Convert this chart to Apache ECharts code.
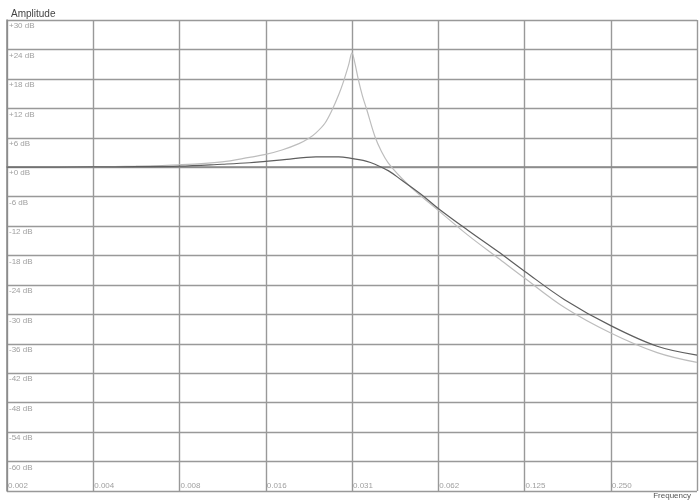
<!DOCTYPE html>
<html>
<head>
<meta charset="utf-8">
<script src="https://cdn.jsdelivr.net/npm/echarts@6/dist/echarts.min.js"></script>
<style>
  html, body { margin: 0; padding: 0; background: #fff; }
  #chart { width: 700px; height: 501px; }
</style>
</head>
<body>
<div id="chart"></div>
<script>
"use strict";
// tick labels, one per octave (last grid line at 0.5 has none)
var xTickLabels = ['0.002', '0.004', '0.008', '0.016', '0.031', '0.062', '0.125', '0.250', ''];

// resonant curve (light grey) - frequency, amplitude in dB
var resFreq = [0.00195, 0.00276, 0.0039, 0.0055, 0.0078, 0.011, 0.0137, 0.0156, 0.0178, 0.0204,
  0.0221, 0.0234, 0.0251, 0.0266, 0.0281, 0.0292, 0.0304, 0.03125, 0.0319, 0.0329,
  0.034, 0.0352, 0.0376, 0.0396, 0.0418, 0.0465, 0.0518, 0.0625, 0.0795, 0.101,
  0.125, 0.1725, 0.25, 0.363, 0.5];
var resDb = [0, 0.02, 0.05, 0.2, 0.5, 1.1, 2.0, 2.6, 3.5, 4.8,
  5.9, 7.0, 8.9, 11.6, 14.8, 17.5, 20.8, 23.3, 21.5, 17.8,
  14.5, 11.7, 6.2, 3.2, 0.9, -2.2, -4.8, -8.8, -13.9, -18.5,
  -22.6, -28.6, -33.8, -37.8, -39.8];

// flat curve (dark grey)
var flatFreq = [0.00195, 0.0039, 0.0055, 0.0078, 0.011, 0.0137, 0.0156, 0.0178, 0.0234, 0.0281,
  0.0304, 0.0352, 0.0376, 0.0418, 0.0465, 0.0544, 0.0625, 0.0795, 0.101, 0.125,
  0.1725, 0.25, 0.363, 0.5];
var flatDb = [0, 0.05, 0.1, 0.2, 0.6, 0.9, 1.2, 1.5, 2.1, 2.1,
  1.9, 1.2, 0.6, -0.7, -2.6, -5.5, -8.4, -12.9, -17.2, -21.2,
  -27.0, -32.3, -36.5, -38.3];

var pairs = function(xs, ys){
  return xs.map(function(x, i){ return [x, ys[i]]; });
};

var myChart = echarts.init(document.getElementById('chart'));
myChart.setOption({
  animation: false,
  backgroundColor: '#fff',
  title: [{
    text: 'Amplitude', left: 6, top: 4,
    textStyle: { fontFamily: 'Liberation Sans', fontSize: 10, fontWeight: 'normal', color: '#444' }
  }, {
    text: 'Frequency', right: 4, bottom: -4,
    textStyle: { fontFamily: 'Liberation Sans', fontSize: 8, fontWeight: 'normal', color: '#555' }
  }],
  grid: { left: 7, right: 0, top: 20, bottom: 10 },
  xAxis: {
    type: 'log', logBase: 2,
    min: 0.001953125, max: 0.5, splitNumber: 8,
    axisLine: { show: true, lineStyle: { color: '#888', width: 1.5 } },
    axisTick: { show: false },
    splitLine: { show: true, lineStyle: { color: '#999', width: 1.4 } },
    axisLabel: {
      inside: true, margin: 1, align: 'left', verticalAlign: 'bottom',
      padding: [0, 0, 0, 1],
      fontFamily: 'Liberation Sans', fontSize: 8, color: '#a0a0a0',
      formatter: function(v){
        var i = Math.round(Math.log(v) / Math.LN2) + 9;
        return xTickLabels[i] || '';
      }
    }
  },
  yAxis: {
    type: 'value', min: -66, max: 30, interval: 6,
    axisLine: { show: true, lineStyle: { color: '#888', width: 1.5 } },
    axisTick: { show: false },
    splitLine: { show: true, lineStyle: { color: '#999', width: 1.4 } },
    axisLabel: {
      inside: true, margin: 2, align: 'left', verticalAlign: 'top',
      padding: [2, 0, 0, 0],
      fontFamily: 'Liberation Sans', fontSize: 8, color: '#a0a0a0',
      formatter: function(v){
        if (v <= -66) return '';
        return (v >= 0 ? '+' : '') + v + ' dB';
      }
    }
  },
  series: [{
    type: 'line', data: pairs(resFreq, resDb), smooth: 0.35, symbol: 'none',
    lineStyle: { color: '#bdbdbd', width: 1.2 }
  }, {
    type: 'line', data: pairs(flatFreq, flatDb), smooth: 0.35, symbol: 'none',
    lineStyle: { color: '#5e5e5e', width: 1.2 }
  }]
});
</script>
</body>
</html>
